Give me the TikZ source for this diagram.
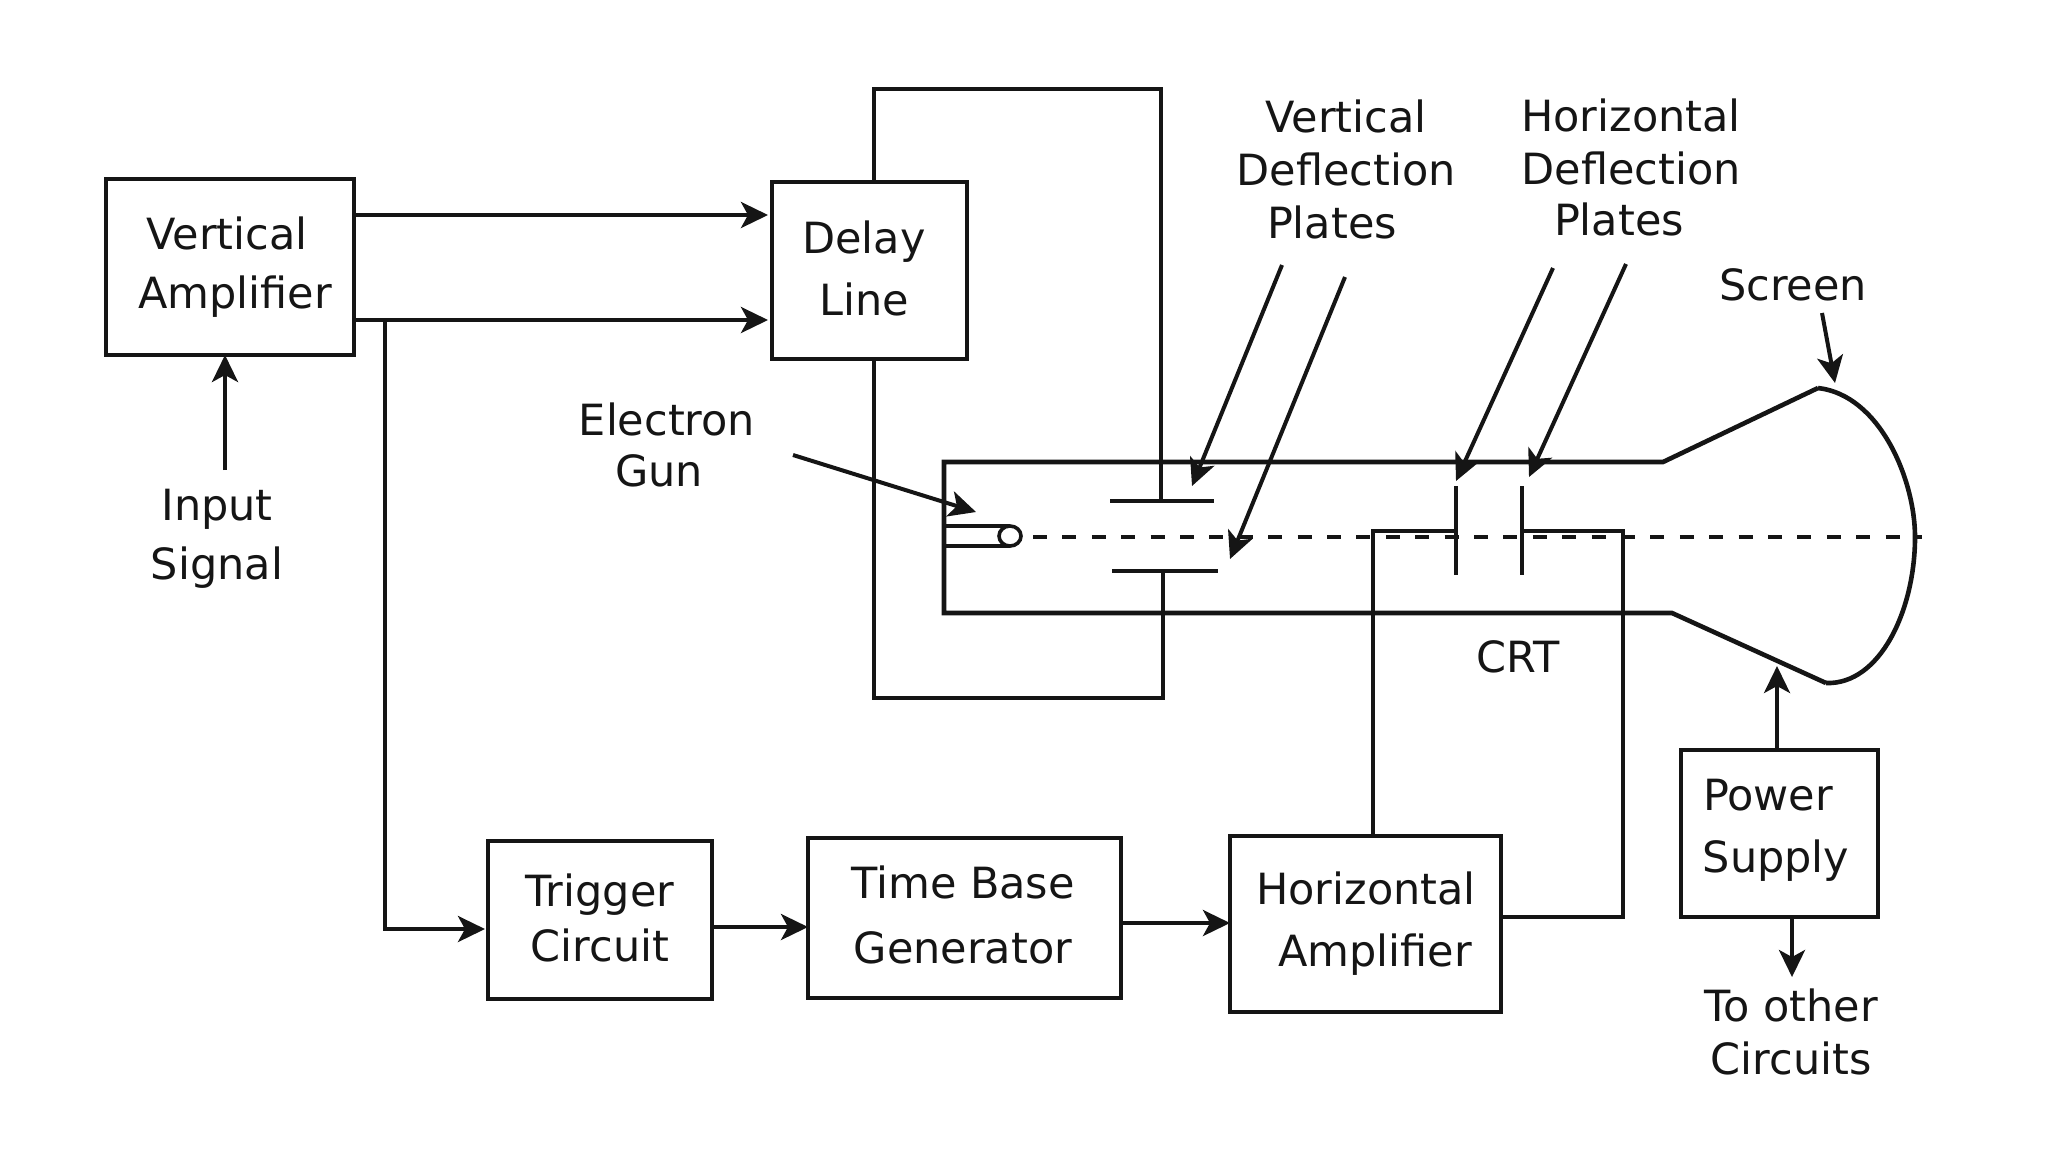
\documentclass[tikz,border=0pt]{standalone}
\usepackage{fontspec}
\setmainfont{DejaVu Sans}
\usetikzlibrary{arrows.meta,shapes.geometric}
\tikzset{
  box/.style={draw=ink,line width=2.2pt,inner sep=0pt,outer sep=0pt,rectangle},
  wire/.style={draw=ink,line width=2pt,line join=miter},
  arr/.style={wire,-{Stealth[length=13.5pt,width=13pt,inset=3.5pt]}},
  tube/.style={draw=ink,line width=2.3pt,line join=miter},
  plate/.style={draw=ink,line width=2.2pt},
  beam/.style={draw=ink,line width=2.4pt,dash pattern=on 7pt off 7.7pt},
  lbl/.style={text=ink,inner sep=0pt,outer sep=0pt,align=center,font=\fontsize{21.5}{29.5}\selectfont},
}
\definecolor{ink}{HTML}{151515}
\begin{document}
\begin{tikzpicture}[x=0.5pt,y=-0.5pt]
\useasboundingbox (0,0) rectangle (2048,1152);
% boxes
\node[box,minimum width=124pt,minimum height=88pt] (vamp) at (230,267) {};
\node[box,minimum width=97.5pt,minimum height=88.5pt] (delay) at (869.5,270.5) {};
\node[box,minimum width=112pt,minimum height=79pt] (trig) at (600,920) {};
\node[box,minimum width=156.5pt,minimum height=80pt] (tbase) at (964.5,918) {};
\node[box,minimum width=135.5pt,minimum height=88pt] (hamp) at (1365.5,924) {};
\node[box,minimum width=98.5pt,minimum height=83.5pt] (psu) at (1779.5,833.5) {};
% labels
\node[lbl] (tvamp) at (235,267) {\hspace*{-8pt}Vertical\\[0pt]Amplifier};
\node[lbl] (tdelay) at (864,268) {Delay\\[1.5pt]Line};
\node[lbl] (tinput) at (217,539) {Input\\Signal};
\node[lbl] (tgun) at (659,445) {\hspace*{8pt}Electron\\[-4pt]Gun};
\node[lbl] (tvdp) at (1346,169) {Vertical\\[-3pt]Deflection\\[-3pt]\hspace*{-14pt}Plates};
\node[lbl] (thdp) at (1631,167) {Horizontal\\[-3pt]Deflection\\[-4pt]\hspace*{-12pt}Plates};
\node[lbl] (tscreen) at (1793,285) {Screen};
\node[lbl] (tcrt) at (1518,657) {CRT};
\node[lbl] (ttrig) at (600,918) {Trigger\\[-2pt]Circuit};
\node[lbl] (ttbase) at (963,915) {Time Base\\[3pt]Generator};
\node[lbl] (thamp) at (1369,924) {\hspace*{-3pt}Horizontal\\[1.5pt]\hspace*{6pt}Amplifier};
\node[lbl] (tpsu) at (1776,830) {\hspace*{-8pt}Power\\[1.5pt]Supply};
\node[lbl] (tother) at (1791,1032) {To other\\[-3pt]Circuits};
% free ends and routing points
\coordinate (yA) at (0,215);
\coordinate (yB) at (0,320);
\coordinate (br) at (385,320);
\coordinate (brd) at (385,929);
\coordinate (inEnd) at (225,470);
\coordinate (topL) at (874,89);
\coordinate (topR) at (1161,89);
\coordinate (botL) at (874,698);
\coordinate (botR) at (1163,698);
\coordinate (p1l) at (1110,501);
\coordinate (p1r) at (1214,501);
\coordinate (p1m) at (1161,501);
\coordinate (p2l) at (1112,571);
\coordinate (p2r) at (1218,571);
\coordinate (p2m) at (1163,571);
\coordinate (h1t) at (1456,486);
\coordinate (h1b) at (1456,575);
\coordinate (h1m) at (1456,531);
\coordinate (h2t) at (1522,486);
\coordinate (h2b) at (1522,575);
\coordinate (h2m) at (1522,531);
\coordinate (hwl) at (1373,531);
\coordinate (hwr) at (1623,531);
\coordinate (hwb) at (1623,917);
\coordinate (bs) at (1033,537);
\coordinate (be) at (1922,537);
% connectors
\draw[arr,shorten >=2pt] (vamp.east |- yA) -- (delay.west |- yA);
\draw[arr,shorten >=2pt] (vamp.east |- yB) -- (delay.west |- yB);
\draw[arr,shorten >=1.5pt] (br) -- (brd) -- (trig.west |- brd);
\draw[arr] (inEnd) -- (inEnd |- vamp.south);
\coordinate (y1) at (0,927);
\coordinate (y2) at (0,923);
\draw[arr] (trig.east |- y1) -- (tbase.west |- y1);
\draw[arr] (tbase.east |- y2) -- (hamp.west |- y2);
\draw[wire] (topL |- delay.north) -- (topL) -- (topR) -- (p1m);
\draw[wire] (botL |- delay.south) -- (botL) -- (botR) -- (p2m);
\draw[wire] (hwl |- hamp.north) -- (hwl) -- (h1m);
\draw[wire] (hamp.east |- hwb) -- (hwb) -- (hwr) -- (h2m);
% CRT
\coordinate (tl) at (944,462);
\coordinate (tbr) at (1663,462);
\coordinate (bl) at (944,613);
\coordinate (bbr) at (1672,613);
\coordinate (scT) at (1818,388);
\coordinate (scB) at (1826,683);
\coordinate (scM) at (1915,537);
\draw[tube] (scT) -- (tbr) -- (tl) -- (bl) -- (bbr) -- (scB);
\draw[tube] (scT) .. controls (1880,395) and (1915,480) .. (scM) .. controls (1915,610) and (1880,685) .. (scB);
\draw[plate] (p1l) -- (p1r);
\draw[plate] (p2l) -- (p2r);
\draw[plate] (h1t) -- (h1b);
\draw[plate] (h2t) -- (h2b);
\draw[beam] (bs) -- (be);
% electron gun
\coordinate (g1) at (944,526);
\coordinate (g2) at (944,546);
\draw[wire] (g1) -- (1010,526);
\draw[wire] (g2) -- (1010,546);
\node[draw=ink,line width=1.8pt,ellipse,fill=white,minimum width=11pt,minimum height=10pt,inner sep=0pt] (tip) at (1010,536) {};
% pointer arrows
\coordinate (a1) at (793,455);
\coordinate (a1e) at (976,512);
\draw[arr] (a1) -- (a1e);
\coordinate (a2) at (1282,265);
\coordinate (a2e) at (1192,486);
\draw[arr] (a2) -- (a2e);
\coordinate (a3) at (1345,277);
\coordinate (a3e) at (1230,559);
\draw[arr] (a3) -- (a3e);
\coordinate (a4) at (1553,268);
\coordinate (a4e) at (1456,481);
\draw[arr] (a4) -- (a4e);
\coordinate (a5) at (1626,264);
\coordinate (a5e) at (1529,477);
\draw[arr] (a5) -- (a5e);
\coordinate (a6) at (1822,313);
\coordinate (a6e) at (1835,383);
\draw[arr] (a6) -- (a6e);
\coordinate (pu) at (1777,666);
\draw[arr] (psu.north -| pu) -- (pu);
\coordinate (pd) at (1792,977);
\draw[arr] (psu.south -| pd) -- (pd);
\end{tikzpicture}
\end{document}
